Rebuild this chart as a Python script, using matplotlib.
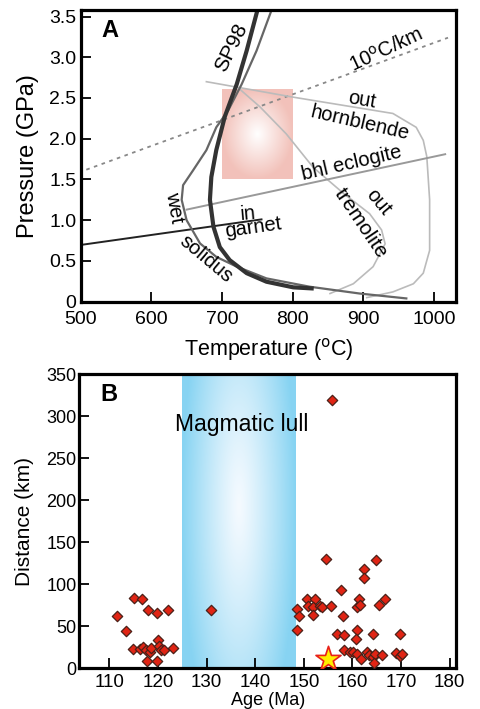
import matplotlib
matplotlib.use('Agg')
import matplotlib.pyplot as plt
import numpy as np

plt.rcParams['font.family'] = ['Liberation Sans', 'DejaVu Sans']

# ---- panel A data (T in C, P in GPa) ----
sp98_T = [750, 735, 721, 704, 692, 685, 683, 688, 697, 711, 735, 763, 801, 827]
sp98_P = [3.57, 3.08, 2.67, 2.27, 1.86, 1.53, 1.25, 0.92, 0.67, 0.51, 0.35, 0.245, 0.176, 0.163]

wet_T = [769, 749, 728, 709, 692, 678, 659, 645, 643, 650, 669, 692, 721, 763, 824, 895, 961]
wet_P = [3.55, 3.08, 2.67, 2.35, 2.14, 1.86, 1.61, 1.43, 1.25, 1.0, 0.715, 0.55, 0.43, 0.286, 0.184, 0.10, 0.04]

garnet_T = [499, 756]
garnet_P = [0.695, 1.01]

bhl_T = [650, 1016]
bhl_P = [1.13, 1.81]

geo_T = [508, 1020]
geo_P = [1.62, 3.24]

hbl_T = [678, 801, 942, 975, 985, 990, 994, 994, 985, 971, 942, 905]
hbl_P = [2.70, 2.51, 2.31, 2.14, 1.98, 1.78, 1.25, 0.63, 0.35, 0.22, 0.12, 0.05]

trem_T = [725, 754, 791, 829, 872, 909, 926, 931, 914, 886, 853]
trem_P = [2.61, 2.39, 2.06, 1.65, 1.33, 1.08, 0.88, 0.71, 0.43, 0.22, 0.10]

box_T = [700, 800]
box_P = [1.5, 2.6]

# ---- panel B data ----
age = [111.5, 113.4, 115.0, 116.8, 117.9, 119.9, 122.1,
       114.9, 116.3, 117.0, 117.5, 118.4, 118.5, 120.0, 120.3, 120.6, 121.3, 123.1, 117.8, 119.9,
       131.0,
       155.8,
       154.6, 164.8, 162.3, 162.3, 157.6, 150.7, 152.4, 161.3, 166.6,
       148.6, 150.9, 151.9, 153.3, 153.8, 155.5, 161.0, 161.5, 165.4,
       149.0, 151.9, 158.0, 148.6, 156.8, 158.3, 161.0, 160.8, 164.2, 169.8,
       158.3, 159.6, 160.2, 160.9, 161.8, 163.0, 163.5, 164.2, 164.6, 164.4, 166.1, 169.0, 169.8, 170.2]
dist = [62, 44, 84, 82, 69, 66, 69,
        23, 23, 25, 22, 19, 24, 34, 27, 22, 22, 24, 9, 9,
        69,
        319,
        130, 129, 118, 108, 93, 83, 83, 83, 83,
        70, 74, 73, 74, 73, 74, 73, 75, 75,
        62, 63, 62, 46, 41, 40, 46, 35, 41, 41,
        22, 20, 19, 17, 11, 19, 16, 14, 17, 6, 16, 18, 15, 17]
star_age = [155.0]
star_dist = [11]
lull = [125.0, 148.3]

fig = plt.figure(figsize=(4.8, 7.09), dpi=100)

# ================= panel A =================
ax = fig.add_axes([0.168, 0.5745, 0.783, 0.4114])
ax.set_xlim(500, 1032)
ax.set_ylim(0, 3.58)

# pink box with radial fade
gx, gy = np.meshgrid(np.linspace(-1, 1, 100), np.linspace(-1, 1, 100))
r = np.clip(np.sqrt(gx**2 + gy**2), 0, 1)
pink = np.ones((100, 100, 3))
pink[..., 0] = 1 - 0.05 * r
pink[..., 1] = 1 - 0.24 * r
pink[..., 2] = 1 - 0.27 * r
ax.imshow(pink, extent=[box_T[0], box_T[1], box_P[0], box_P[1]], aspect='auto', zorder=0)

ax.plot(geo_T, geo_P, color='#888888', lw=1.3, ls=(0, (2, 2.5)))
ax.plot(hbl_T, hbl_P, color='#bbbbbb', lw=1.2)
ax.plot(trem_T, trem_P, color='#bbbbbb', lw=1.2)
ax.plot(bhl_T, bhl_P, color='#999999', lw=1.4)
ax.plot(garnet_T, garnet_P, color='#222222', lw=1.4)
ax.plot(wet_T, wet_P, color='#666666', lw=1.6)
ax.plot(sp98_T, sp98_P, color='#333333', lw=3)

fs = 14.5
ax.text(0.055, 0.93, 'A', transform=ax.transAxes, fontsize=17, fontweight='bold', va='center')
ax.text(713, 3.12, 'SP98', rotation=64, fontsize=15, ha='center', va='center')
ax.text(933, 3.09, r'10$^{\rm o}$C/km', rotation=25, fontsize=fs, ha='center', va='center')
ax.text(898, 2.47, 'out', rotation=-10, fontsize=fs, ha='center', va='center')
ax.text(895, 2.19, 'hornblende', rotation=-13, fontsize=fs, ha='center', va='center')
ax.text(883, 1.70, 'bhl eclogite', rotation=13, fontsize=fs, ha='center', va='center')
ax.text(921, 1.22, 'out', rotation=-50, fontsize=fs, ha='center', va='center')
ax.text(897, 0.96, 'tremolite', rotation=-56, fontsize=15, ha='center', va='center')
ax.text(633, 1.16, 'wet', rotation=-80, fontsize=fs, ha='center', va='center')
ax.text(678, 0.53, 'solidus', rotation=-40, fontsize=fs, ha='center', va='center')
ax.text(737, 1.08, 'in', rotation=5, fontsize=fs, ha='center', va='center')
ax.text(744, 0.91, 'garnet', rotation=8, fontsize=fs, ha='center', va='center')

ax.set_xticks([500, 600, 700, 800, 900, 1000])
ax.set_yticks([0, 0.5, 1.0, 1.5, 2.0, 2.5, 3.0, 3.5])
ax.set_yticklabels(['0', '0.5', '1.0', '1.5', '2.0', '2.5', '3.0', '3.5'])
ax.tick_params(axis='x', direction='in', length=7, width=1.3, labelsize=14, pad=7, top=False)
ax.tick_params(axis='y', direction='in', length=7, width=1.3, labelsize=14, pad=3, right=False)
ax.set_xlabel(r'Temperature ($^{\rm o}$C)', fontsize=15.5)
ax.xaxis.set_label_coords(0.5, -0.118)
ax.set_ylabel('Pressure (GPa)', fontsize=17)
ax.yaxis.set_label_coords(-0.11, 0.5)
for s in ax.spines.values():
    s.set_linewidth(2.3)

# ================= panel B =================
bx = fig.add_axes([0.165, 0.0574, 0.786, 0.4147])
bx.set_xlim(103.8, 181.4)
bx.set_ylim(0, 350)

gx, gy = np.meshgrid(np.linspace(-1, 1, 200), np.linspace(-1, 1, 200))
r = np.clip(np.sqrt(gx**2 + (0.55 * (gy + 0.1))**2), 0, 1)
r = r ** 1.2
blue = np.ones((200, 200, 3))
blue[..., 0] = 0.96 - 0.43 * r
blue[..., 1] = 0.98 - 0.15 * r
blue[..., 2] = 1.0 - 0.05 * r
bx.imshow(blue, extent=[lull[0], lull[1], 0, 350], aspect='auto', zorder=0)

bx.scatter(age, dist, marker='D', s=28, facecolor='#e02414', edgecolor='#4a2018', linewidth=0.9, zorder=3)
bx.scatter(star_age, star_dist, marker='*', s=360, facecolor='#ffee00', edgecolor='#e8201a', linewidth=1.2, zorder=4)

bx.text(0.055, 0.93, 'B', transform=bx.transAxes, fontsize=17, fontweight='bold', va='center')
bx.text(137.3, 290, 'Magmatic lull', fontsize=16.5, ha='center', va='center')

bx.set_xticks([110, 120, 130, 140, 150, 160, 170, 180])
bx.set_yticks([0, 50, 100, 150, 200, 250, 300, 350])
bx.tick_params(axis='x', direction='in', length=7, width=1.3, labelsize=13.5, pad=4, top=False)
bx.tick_params(axis='y', direction='in', length=7, width=1.3, labelsize=13, pad=2, right=False)
bx.set_xlabel('Age (Ma)', fontsize=13)
bx.xaxis.set_label_coords(0.5, -0.08)
bx.set_ylabel('Distance (km)', fontsize=15)
bx.yaxis.set_label_coords(-0.12, 0.5)
for s in bx.spines.values():
    s.set_linewidth(2.3)

fig.savefig('out.png', dpi=100)
